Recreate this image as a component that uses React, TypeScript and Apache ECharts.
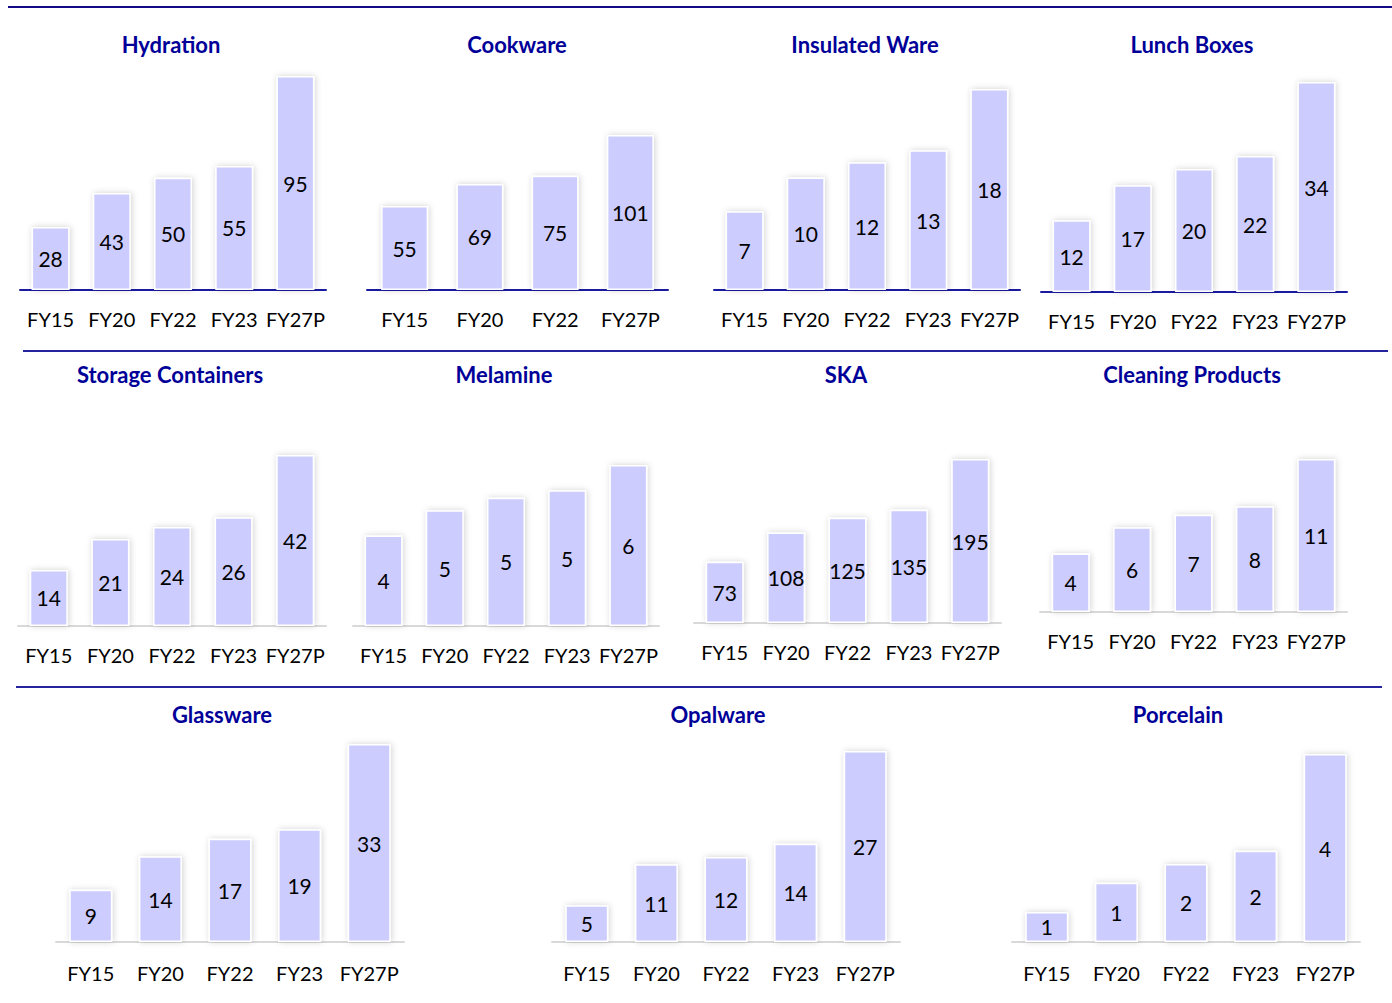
import React, { useEffect, useRef } from "react";
import * as echarts from "echarts";

const CATS5 = ["FY15", "FY20", "FY22", "FY23", "FY27P"];
const CATS4 = ["FY15", "FY20", "FY22", "FY27P"];

const titles = [
  "Hydration", "Cookware", "Insulated Ware", "Lunch Boxes",
  "Storage Containers", "Melamine", "SKA", "Cleaning Products",
  "Glassware", "Opalware", "Porcelain",
];

const hydration = [28.0, 43.1, 49.8, 55.1, 95.0];
const cookware = [54.7, 69.1, 74.5, 101.0];
const insulatedWare = [7.2, 10.3, 11.7, 12.8, 18.4];
const lunchBoxes = [11.6, 17.3, 19.9, 22.0, 34.0];
const storageContainers = [13.6, 21.1, 24.0, 26.4, 41.5];
const melamine = [3.6, 4.6, 5.1, 5.4, 6.4];
const ska = [72.8, 107.6, 125.2, 134.8, 195.0];
const cleaningProducts = [4.2, 6.1, 7.0, 7.6, 11.0];
const glassware = [8.7, 14.3, 17.2, 18.8, 33.0];
const opalware = [5.2, 11.0, 12.0, 13.9, 27.0];
const porcelain = [0.64, 1.26, 1.66, 1.94, 4.0];

const seriesData = [
  { cats: CATS5, values: hydration },
  { cats: CATS4, values: cookware },
  { cats: CATS5, values: insulatedWare },
  { cats: CATS5, values: lunchBoxes },
  { cats: CATS5, values: storageContainers },
  { cats: CATS5, values: melamine },
  { cats: CATS5, values: ska },
  { cats: CATS5, values: cleaningProducts },
  { cats: CATS5, values: glassware },
  { cats: CATS5, values: opalware },
  { cats: CATS5, values: porcelain },
];

// layout: axis left x, axis right x, tallest-bar top y, baseline y, bar width, title center x, title y, axis style row
const layout = [
  { l: 20, r: 326, t: 76, b: 290, bw: 38, tx: 171, ty: 44, row: 1 },
  { l: 367, r: 668, t: 135, b: 290, bw: 47, tx: 517, ty: 44, row: 1 },
  { l: 714, r: 1020, t: 89, b: 290, bw: 38, tx: 865, ty: 44, row: 1 },
  { l: 1041, r: 1347, t: 82, b: 292, bw: 38, tx: 1192, ty: 44, row: 1 },
  { l: 18, r: 326, t: 455, b: 626, bw: 38, tx: 170, ty: 374, row: 2 },
  { l: 353, r: 659, t: 465, b: 626, bw: 38, tx: 504, ty: 374, row: 2 },
  { l: 694, r: 1001, t: 459, b: 623, bw: 38, tx: 846, ty: 374, row: 2 },
  { l: 1040, r: 1347, t: 459, b: 612, bw: 38, tx: 1192, ty: 374, row: 2 },
  { l: 56, r: 404, t: 744, b: 942, bw: 43, tx: 222, ty: 714, row: 3 },
  { l: 552, r: 900, t: 751, b: 942, bw: 43, tx: 718, ty: 714, row: 3 },
  { l: 1012, r: 1360, t: 754, b: 942, bw: 43, tx: 1178, ty: 714, row: 3 },
];

const FONT = "Lato, 'Open Sans', sans-serif";

export default function App() {
  const ref = useRef<HTMLDivElement>(null);
  useEffect(() => {
    if (!ref.current) return;
    const chart = echarts.init(ref.current, null, { renderer: "svg" });
    const grids: any[] = [];
    const xAxes: any[] = [];
    const yAxes: any[] = [];
    const series: any[] = [];
    const titleArr: any[] = [];
    seriesData.forEach((d, i) => {
      const L = layout[i];
      grids.push({ left: L.l, width: L.r - L.l, top: L.t, height: L.b - L.t, containLabel: false });
      xAxes.push({
        type: "category",
        gridIndex: i,
        data: d.cats,
        axisTick: { show: false },
        axisLine: {
          show: true,
          lineStyle: { color: L.row === 1 ? "#1a1aa0" : "#d9d9d9", width: 2 },
        },
        axisLabel: {
          interval: 0,
          hideOverlap: false,
          color: "#000",
          fontFamily: FONT,
          fontSize: 20,
          margin: L.row === 3 ? 21 : 19,
        },
      });
      yAxes.push({
        type: "value",
        gridIndex: i,
        min: 0,
        max: Math.max(...d.values),
        show: false,
        splitLine: { show: false },
      });
      series.push({
        type: "bar",
        xAxisIndex: i,
        yAxisIndex: i,
        data: d.values,
        barWidth: L.bw,
        itemStyle: {
          color: "#ccccff",
          borderColor: "#ffffff",
          borderWidth: 1.5,
          shadowColor: "rgba(0,0,0,0.18)",
          shadowBlur: 6,
          shadowOffsetX: 1,
          shadowOffsetY: 0,
        },
        label: {
          show: true,
          position: "inside",
          color: "#000",
          fontFamily: FONT,
          fontSize: 21,
          formatter: (p: any) => String(Math.round(p.value)),
        },
      });
      titleArr.push({
        text: titles[i],
        left: L.tx,
        top: L.ty,
        textAlign: "center",
        textVerticalAlign: "middle",
        padding: 0,
        textStyle: { color: "#000099", fontFamily: FONT, fontWeight: "bold", fontSize: 22 },
      });
    });
    chart.setOption({
      animation: false,
      backgroundColor: "#ffffff",
      title: titleArr,
      grid: grids,
      xAxis: xAxes,
      yAxis: yAxes,
      series,
      graphic: [
        { type: "line", shape: { x1: 8, y1: 7, x2: 1392, y2: 7 }, style: { stroke: "#140a85", lineWidth: 2 } },
        { type: "line", shape: { x1: 23, y1: 351, x2: 1388, y2: 351 }, style: { stroke: "#2424a0", lineWidth: 2 } },
        { type: "line", shape: { x1: 16, y1: 687, x2: 1382, y2: 687 }, style: { stroke: "#2424a0", lineWidth: 2 } },
      ],
    });
    return () => chart.dispose();
  }, []);
  return (
    <div
      ref={ref}
      style={{ position: "absolute", left: 0, top: 0, width: 1392, height: 1003 }}
    />
  );
}
